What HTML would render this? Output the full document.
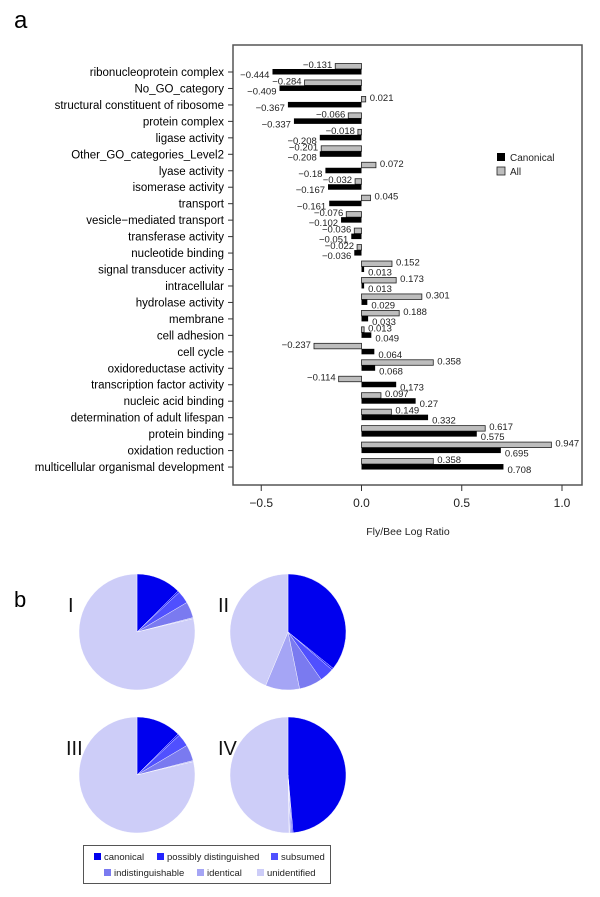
<!DOCTYPE html>
<html><head><meta charset="utf-8">
<style>
body{margin:0;background:#fff;}
svg{display:block;font-family:"Liberation Sans",Arial,sans-serif;}
</style></head>
<body>
<svg id="fig" width="600" height="897" viewBox="0 0 600 897" xmlns="http://www.w3.org/2000/svg">
<text x="14" y="28" font-size="24">a</text>
<text x="14" y="607" font-size="22">b</text>
<g id="barchart"></g>
<g id="pies"></g>
</svg>
<script>
const categories=["ribonucleoprotein complex","No_GO_category","structural constituent of ribosome","protein complex","ligase activity","Other_GO_categories_Level2","lyase activity","isomerase activity","transport","vesicle\u2212mediated transport","transferase activity","nucleotide binding","signal transducer activity","intracellular","hydrolase activity","membrane","cell adhesion","cell cycle","oxidoreductase activity","transcription factor activity","nucleic acid binding","determination of adult lifespan","protein binding","oxidation reduction","multicellular organismal development"];
const allValues=[-0.131,-0.284,0.021,-0.066,-0.018,-0.201,0.072,-0.032,0.045,-0.076,-0.036,-0.022,0.152,0.173,0.301,0.188,0.013,-0.237,0.358,-0.114,0.097,0.149,0.617,0.947,0.358];
const canonicalValues=[-0.444,-0.409,-0.367,-0.337,-0.208,-0.208,-0.18,-0.167,-0.161,-0.102,-0.051,-0.036,0.013,0.013,0.029,0.033,0.049,0.064,0.068,0.173,0.27,0.332,0.575,0.695,0.708];
const xTicks=[-0.5,0,0.5,1.0];
const xTickLabels=["\u22120.5","0.0","0.5","1.0"];

const pieNames=["I","II","III","IV"];
const pieCategories=["canonical","possibly distinguished","subsumed","indistinguishable","identical","unidentified"];
const pieI=[12.5,0.5,3.5,4.5,0.3,78.7];
const pieII=[35.8,0.5,4.0,6.5,9.5,43.7];
const pieIII=[12.5,0.5,3.5,4.5,0.3,78.7];
const pieIV=[48.6,0.3,0.3,0.3,0.2,50.3];

const NS="http://www.w3.org/2000/svg";
function mk(tag,attrs,parent,txt){const e=document.createElementNS(NS,tag);for(const k in attrs)e.setAttribute(k,attrs[k]);if(txt!==undefined)e.textContent=txt;parent.appendChild(e);return e;}
const fmt=v=>(v<0?"\u2212":"")+String(Math.abs(v));

const g=document.getElementById('barchart');
const box={l:233,t:45,r:582,b:485};
const xs=v=>361.5+v*200.5;
const rowY=i=>72+i*16.46;
let el=mk('rect',{x:box.l,y:box.t,width:box.r-box.l,height:box.b-box.t,fill:'none',stroke:'#555','stroke-width':1.5},g);


categories.forEach((c,i)=>{
  const y=rowY(i);
  let t=mk('line',{x1:box.l-5,x2:box.l,y1:y,y2:y,stroke:'#333'},g);
  
  
  let lb=mk('text',{x:box.l-9,y:y+4,'font-size':11.5,'text-anchor':'end',fill:'#000'},g,c);
  
  
  const a=allValues[i],x0=xs(0),xa=xs(a);
  let ba=mk('rect',{x:Math.min(x0,xa),y:y-8.5,width:Math.max(Math.abs(xa-x0),1),height:5.5,fill:'#bdbdbd',stroke:'#222','stroke-width':0.8},g);
  
  
  let ta=mk('text',{x:a<0?xa-3:xa+4,y:y-4,'font-size':9.5,'text-anchor':a<0?'end':'start',fill:'#222'},g,fmt(a));
  
  
  const cv=canonicalValues[i],xc=xs(cv);
  let bc=mk('rect',{x:Math.min(x0,xc),y:y-3,width:Math.max(Math.abs(xc-x0),1),height:5.5,fill:'#000'},g);
  
  
  let tc=mk('text',{x:cv<0?xc-3:xc+4,y:y+6,'font-size':9.5,'text-anchor':cv<0?'end':'start',fill:'#222'},g,fmt(cv));
  
  
});
xTicks.forEach((v,i)=>{
  const x=xs(v);
  let t=mk('line',{x1:x,x2:x,y1:box.b,y2:box.b+6,stroke:'#333'},g);
  
  
  let l=mk('text',{x:x,y:box.b+22,'font-size':12,'text-anchor':'middle',fill:'#222'},g,xTickLabels[i]);
  
  
});
el=mk('text',{x:408,y:535,'font-size':10.5,'text-anchor':'middle',fill:'#222'},g,"Fly/Bee Log Ratio");


el=mk('rect',{x:497,y:153,width:8,height:8,fill:'#000'},g);


el=mk('text',{x:510,y:161,'font-size':10,fill:'#222'},g,"Canonical");


el=mk('rect',{x:497,y:167,width:8,height:8,fill:'#bdbdbd',stroke:'#222','stroke-width':0.8},g);


el=mk('text',{x:510,y:175,'font-size':10,fill:'#222'},g,"All");



const pg=document.getElementById('pies');
const pieColors=['#0000ee','#2323ff','#5050ff','#7a7af0','#a5a5f5','#cdcdf8'];
const pieData=[pieI,pieII,pieIII,pieIV];
const pieCenters=[[137,632],[288,632],[137,775],[288,775]];
const R=58;
const labelPos=[[68,612],[218,612],[66,755],[218,755]];
pieData.forEach((d,p)=>{
  const [cx,cy]=pieCenters[p];
  const tot=d.reduce((a,b)=>a+b,0);
  let ang=0;
  d.forEach((v,k)=>{
    const a0=ang/tot*2*Math.PI, a1=(ang+v)/tot*2*Math.PI; ang+=v;
    const x0=cx+R*Math.sin(a0),y0=cy-R*Math.cos(a0),x1=cx+R*Math.sin(a1),y1=cy-R*Math.cos(a1);
    const large=(a1-a0)>Math.PI?1:0;
    let s=mk('path',{d:`M${cx},${cy}L${x0},${y0}A${R},${R} 0 ${large} 1 ${x1},${y1}Z`,fill:pieColors[k],stroke:'#fff','stroke-width':0.4},pg);
    
    
  });
  let t=mk('text',{x:labelPos[p][0],y:labelPos[p][1],'font-size':20,fill:'#111'},pg,pieNames[p]);
  
  
});
el=mk('rect',{x:83.5,y:845.5,width:247,height:38,fill:'#fff',stroke:'#555','stroke-width':1},pg);


const legPos=[[94,860],[157,860],[271,860],[104,876],[197,876],[257,876]];
pieCategories.forEach((c,k)=>{
  const [x,y]=legPos[k];
  let s=mk('rect',{x:x,y:y-7,width:7,height:7,fill:pieColors[k]},pg);
  
  
  let t=mk('text',{x:x+10,y:y,'font-size':9.5,fill:'#222'},pg,c);
  
  
});
</script>
</body></html>
